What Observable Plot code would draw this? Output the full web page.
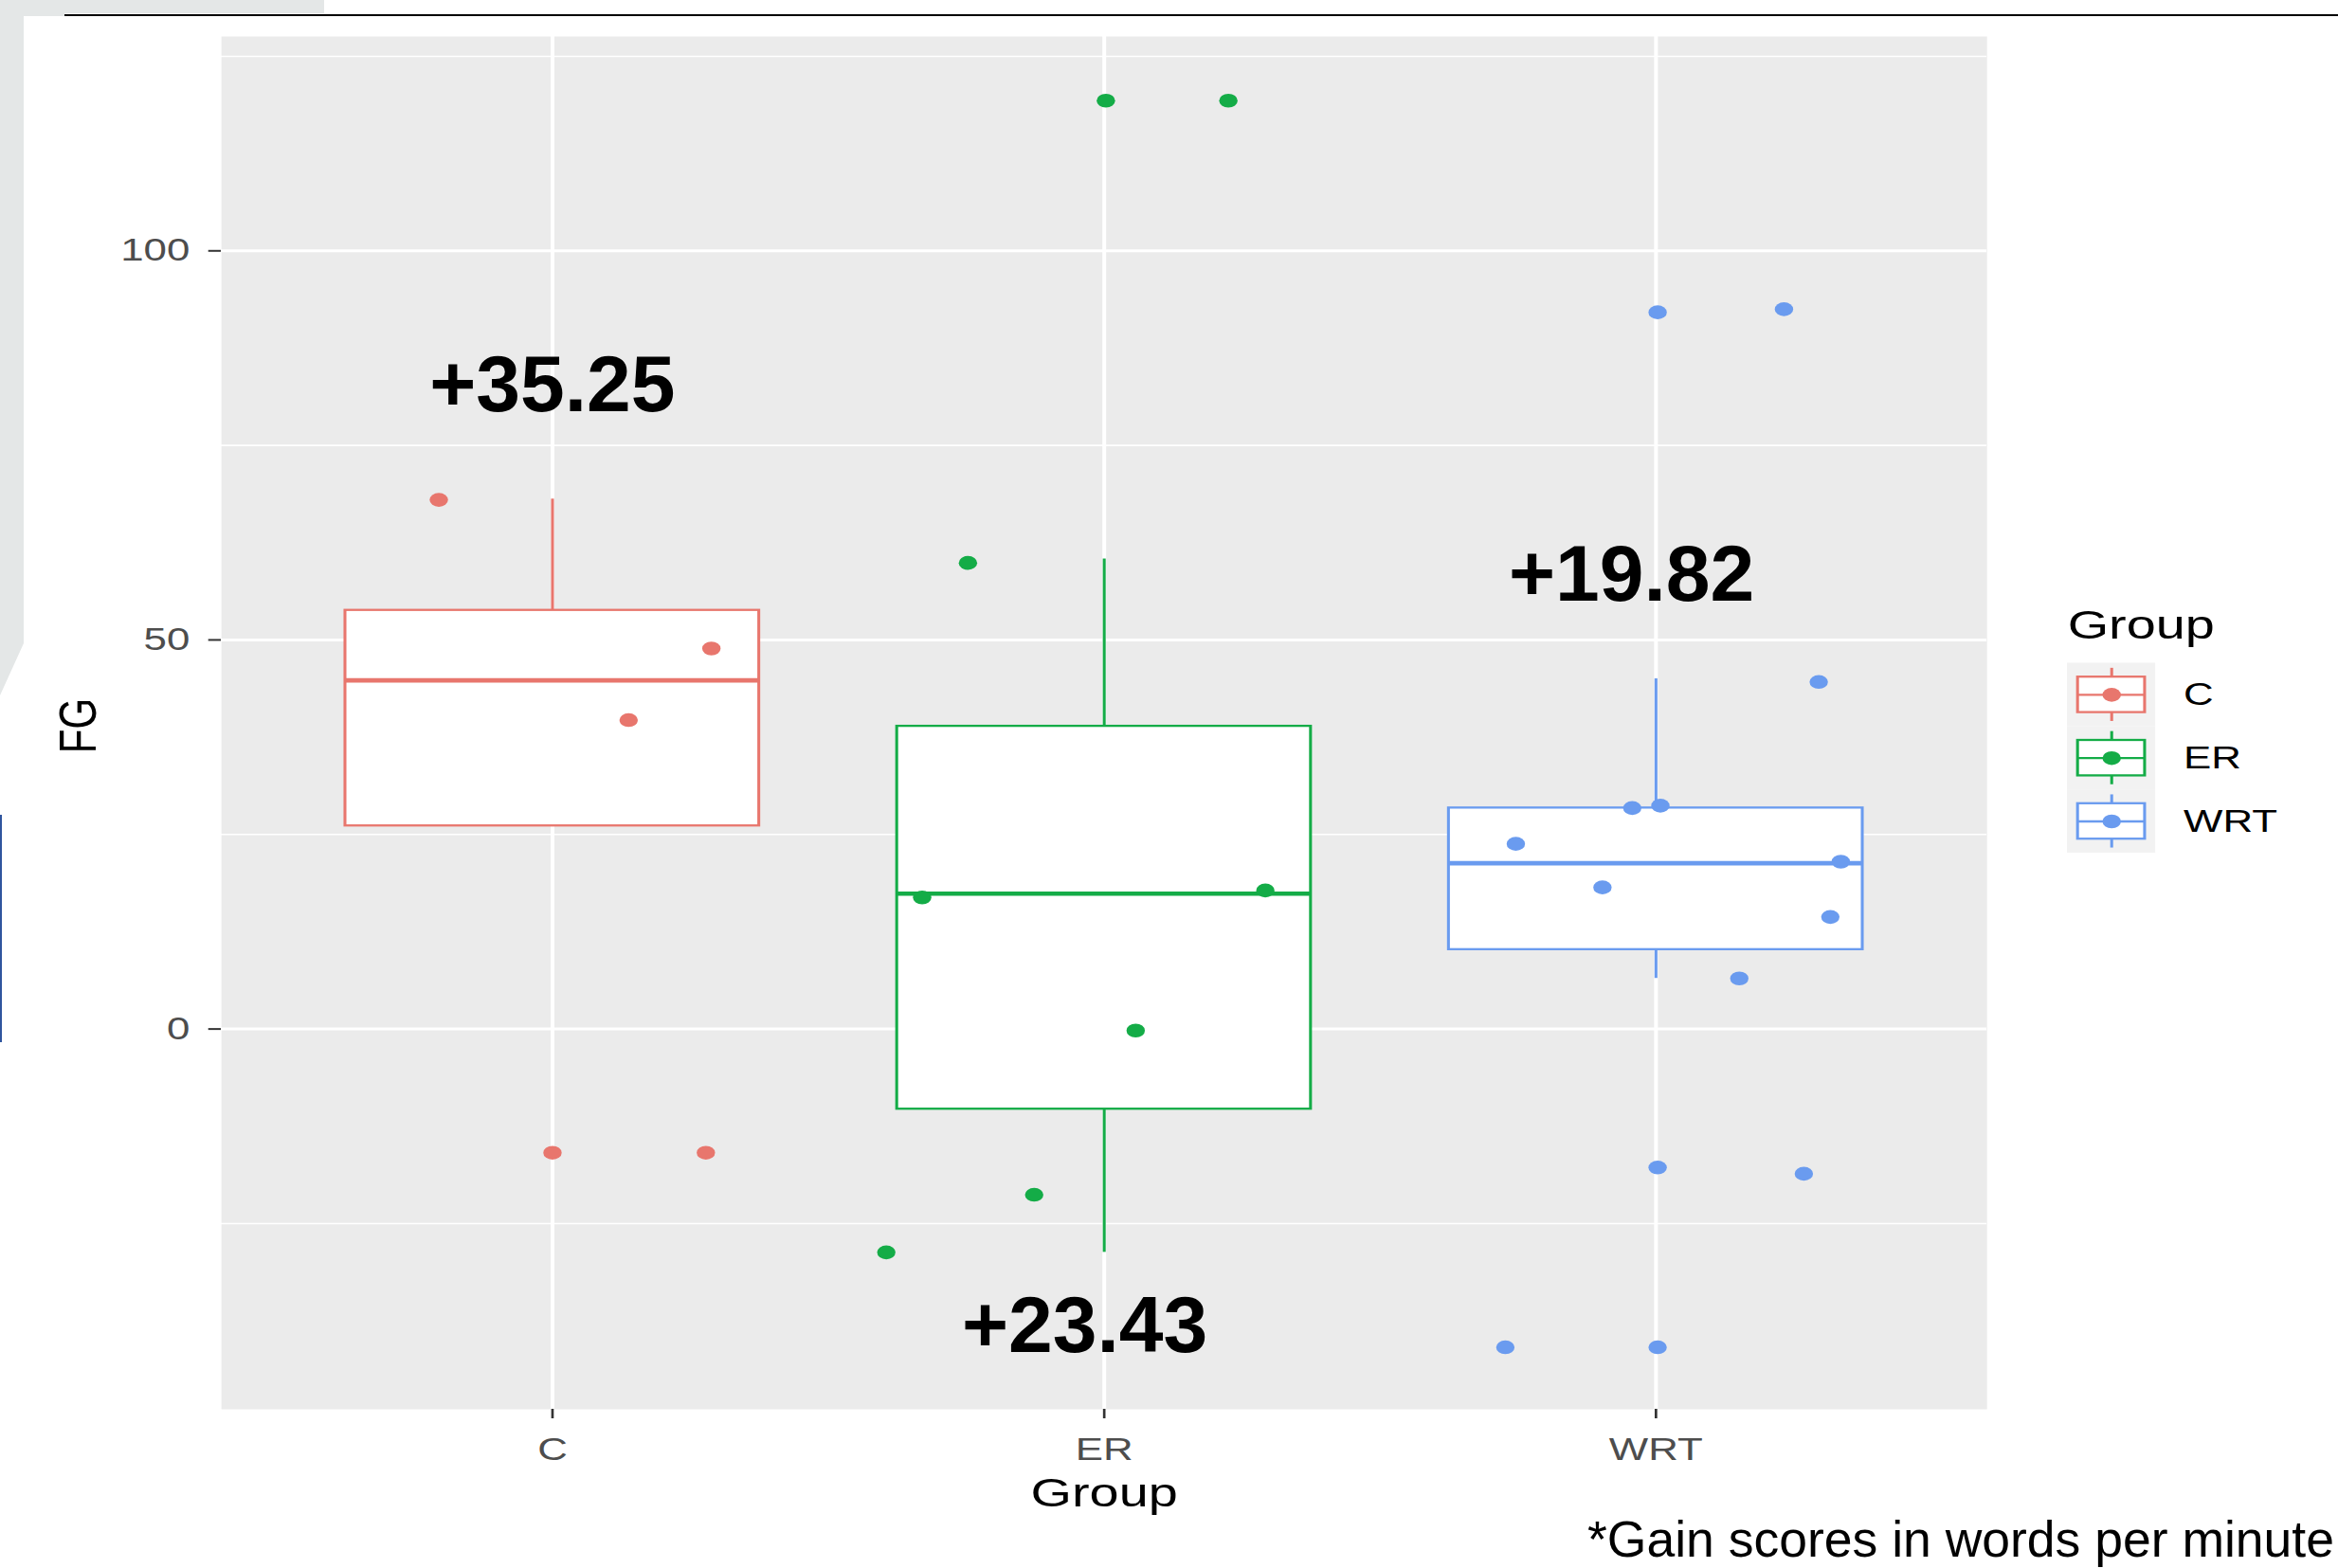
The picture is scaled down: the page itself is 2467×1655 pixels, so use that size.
<!DOCTYPE html>
<html>
<head>
<meta charset="utf-8">
<script src="https://cdn.jsdelivr.net/npm/d3@7"></script>
<script src="https://cdn.jsdelivr.net/npm/@observablehq/plot@0.6"></script>
<style>
html, body { margin: 0; padding: 0; background: #ffffff; }
#page { position: relative; width: 2467px; height: 1655px; overflow: hidden; background: #ffffff;
        font-family: "Liberation Sans", Arial, sans-serif; }
#page > * { position: absolute; }
.deco { background: #E4E7E7; }
</style>
</head>
<body>
<div id="page"></div>
<script>
// ---------------- data ----------------
const groups = ["C", "ER", "WRT"];
const colors = ["#E8766D", "#14AC47", "#6A9BEF"];

// boxplot statistics per group
const boxQ1 = [26.1, -10.3, 10.2];
const boxMedian = [44.8, 17.4, 21.3];
const boxQ3 = [53.8, 38.9, 28.4];
const whiskerLow = [26.1, -28.7, 6.5];
const whiskerHigh = [68.1, 60.4, 45.0];

// jittered points: group index, horizontal jitter (in group units), value
const pointGroup = [0, 0, 0, 0, 0,
                    1, 1, 1, 1, 1, 1, 1, 1,
                    2, 2, 2, 2, 2, 2, 2, 2, 2, 2, 2, 2, 2, 2];
const pointOffset = [-0.206, 0.288, 0.138, 0.000, 0.278,
                     0.003, 0.225, -0.247, -0.330, 0.292, 0.057, -0.127, -0.395,
                     0.003, 0.232, 0.295, -0.254, -0.043, 0.008, -0.097, 0.335, 0.316, 0.151, 0.003, 0.268, -0.273, 0.003];
const pointValue = [68.0, 48.9, 39.7, -15.9, -15.9,
                    119.3, 119.3, 59.9, 16.9, 17.8, -0.2, -21.3, -28.7,
                    92.1, 92.5, 44.6, 23.8, 28.4, 28.7, 18.2, 21.5, 14.4, 6.5, -17.8, -18.6, -40.9, -40.9];

// gain-score annotations
const gainLabels = ["+35.25", "+23.43", "+19.82"];
const gainX = [1.0, 1.965, 2.956];
const gainY = [82.7, -38.2, 58.3];

const yTicks = [0, 50, 100];
const yMinorTicks = [-25, 25, 75, 125];
const xTicks = [1, 2, 3];
const yDomain = [-48.87, 127.55];
const xDomain = [0.4, 3.6];
const captionText = "*Gain scores in words per minute";

// ---------------- layout ----------------
const S = 1.33;               // horizontal stretch of the original R image
const PAGE_W = 2467, H = 1655;
const IW = PAGE_W / S;
const mTop = 38, mBottom = 168, mLeftPage = 233, mRightPage = 371;
const FONT = "'Liberation Sans', Arial, sans-serif";
const half = 0.375;

const boxes = groups.map((g, i) => ({
  g, pos: i + 1, q1: boxQ1[i], med: boxMedian[i], q3: boxQ3[i], lo: whiskerLow[i], hi: whiskerHigh[i]
}));
const points = pointValue.map((v, k) => ({
  g: groups[pointGroup[k]], x: pointGroup[k] + 1 + pointOffset[k], y: v
}));

const page = document.getElementById("page");

function stretch(svg, pageWidth, height) {
  svg.setAttribute("width", pageWidth);
  svg.setAttribute("preserveAspectRatio", "none");
  svg.style.width = pageWidth + "px";
  svg.style.height = height + "px";
  svg.style.maxWidth = "none";
}

// ---------------- main chart ----------------
const main = Plot.plot({
  width: IW, height: H,
  marginTop: mTop, marginBottom: mBottom,
  marginLeft: mLeftPage / S, marginRight: mRightPage / S,
  x: {domain: xDomain},
  y: {domain: yDomain},
  color: {domain: groups, range: colors},
  style: {fontFamily: FONT, background: "white"},
  marks: [
    Plot.frame({fill: "#EBEBEB", stroke: "none"}),
    Plot.gridY(yMinorTicks, {stroke: "white", strokeOpacity: 1, strokeWidth: 1.6}),
    Plot.gridY(yTicks, {stroke: "white", strokeOpacity: 1, strokeWidth: 3}),
    Plot.gridX(xTicks, {stroke: "white", strokeOpacity: 1, strokeWidth: 3}),
    Plot.ruleX(boxes, {x: "pos", y1: "q3", y2: "hi", stroke: "g", strokeWidth: 2.3}),
    Plot.ruleX(boxes, {x: "pos", y1: "lo", y2: "q1", stroke: "g", strokeWidth: 2.3}),
    Plot.rect(boxes, {x1: d => d.pos - half, x2: d => d.pos + half, y1: "q1", y2: "q3",
                      fill: "white", stroke: "g", strokeWidth: 2.3}),
    Plot.ruleY(boxes, {y: "med", x1: d => d.pos - half, x2: d => d.pos + half, stroke: "g", strokeWidth: 4.6}),
    Plot.dot(points, {x: "x", y: "y", fill: "g", r: 7.3}),
    Plot.axisY(yTicks, {tickSize: 10, tickPadding: 15, fontSize: 33, color: "#4D4D4D", stroke: "#333333",
                        strokeWidth: 2, label: null}),
    Plot.axisX(xTicks, {tickSize: 10, tickPadding: 20.5, fontSize: 33, color: "#4D4D4D", stroke: "#333333",
                        strokeWidth: 2, tickFormat: d => groups[d - 1], label: null}),
    Plot.text(["FG"], {frameAnchor: "left", textAnchor: "middle", lineAnchor: "middle", rotate: -90,
                       dx: -113.5, dy: 3, fontSize: 42, fill: "#000000"}),
    Plot.text(["Group"], {frameAnchor: "bottom", textAnchor: "middle", lineAnchor: "bottom", dy: 102,
                          fontSize: 42, fill: "#000000"})
  ]
});
stretch(main, PAGE_W, H);
main.style.left = "0px"; main.style.top = "0px";
page.appendChild(main);

// ---------------- slide decorations ----------------
function deco(css, cls) {
  const d = document.createElement("div");
  if (cls) d.className = cls;
  d.style.cssText = css;
  page.appendChild(d);
}
deco("left:0;top:0;width:342px;height:14px;", "deco");
deco("left:0;top:0;width:68px;height:17px;", "deco");
deco("left:0;top:0;width:25px;height:734px;clip-path:polygon(0 0,100% 0,100% 679px,0 734px);", "deco");
deco("left:68px;top:15px;width:2399px;height:2.4px;background:#000;");
deco("left:0;top:860px;width:2px;height:240px;background:#2F559E;");

// ---------------- legend ----------------
const legendRows = groups.map((g, i) => ({g, i}));
const L_LEFT = 2150, L_TOP = 600, L_PW = 317, L_H = 320;
const keyLeftPage = 2181, keyWidth = 70, rowTop = 699.5, rowH = 66.8;
const legend = Plot.plot({
  width: L_PW / S, height: L_H,
  marginLeft: (keyLeftPage - L_LEFT) / S,
  marginRight: L_PW / S - (keyLeftPage - L_LEFT) / S - keyWidth,
  marginTop: rowTop - L_TOP,
  marginBottom: L_H - (rowTop - L_TOP) - 3 * rowH,
  x: {domain: [0, 1], axis: null},
  y: {domain: [2.5, -0.5], axis: null},
  color: {domain: groups, range: colors},
  style: {fontFamily: FONT, background: "transparent", overflow: "visible"},
  marks: [
    Plot.rect(legendRows, {x1: 0, x2: 1, y1: d => d.i - 0.5, y2: d => d.i + 0.5, fill: "#F2F2F2"}),
    Plot.ruleX(legendRows, {x: 0.5, y1: d => d.i - 0.42, y2: d => d.i - 0.28, stroke: "g", strokeWidth: 2.3}),
    Plot.ruleX(legendRows, {x: 0.5, y1: d => d.i + 0.28, y2: d => d.i + 0.42, stroke: "g", strokeWidth: 2.3}),
    Plot.rect(legendRows, {x1: 0.12, x2: 0.88, y1: d => d.i - 0.28, y2: d => d.i + 0.28,
                           fill: "white", stroke: "g", strokeWidth: 2.3}),
    Plot.ruleY(legendRows, {y: "i", x1: 0.12, x2: 0.88, stroke: "g", strokeWidth: 2.3}),
    Plot.dot(legendRows, {x: 0.5, y: "i", fill: "g", r: 7.3}),
    Plot.text(legendRows, {x: 1, y: "i", text: "g", textAnchor: "start", dx: 22, fontSize: 33, fill: "#000000"}),
    Plot.text(["Group"], {frameAnchor: "top-left", textAnchor: "start", lineAnchor: "bottom",
                          dy: 673 - rowTop, fontSize: 42, fill: "#000000"})
  ]
});
stretch(legend, L_PW, L_H);
legend.style.left = L_LEFT + "px"; legend.style.top = L_TOP + "px";
page.appendChild(legend);

// ---------------- annotations (not stretched) ----------------
const notes = gainLabels.map((t, i) => ({t, x: gainX[i], y: gainY[i]}));
const ann = Plot.plot({
  width: PAGE_W, height: H,
  marginTop: mTop, marginBottom: mBottom, marginLeft: mLeftPage, marginRight: mRightPage,
  x: {domain: xDomain, axis: null},
  y: {domain: yDomain, axis: null},
  style: {fontFamily: FONT, background: "transparent"},
  marks: [
    Plot.text(notes, {x: "x", y: "y", text: "t", fontSize: 84, fontWeight: "bold", fill: "#000000"})
  ]
});
ann.style.left = "0px"; ann.style.top = "0px"; ann.style.maxWidth = "none";
ann.style.pointerEvents = "none";
page.appendChild(ann);

// ---------------- caption ----------------
const cap = document.createElement("div");
cap.textContent = captionText;
cap.style.cssText = "right:4px;top:1598px;font-size:53.5px;line-height:54px;color:#000;white-space:nowrap;font-family:" + FONT + ";";
page.appendChild(cap);
</script>
</body>
</html>
